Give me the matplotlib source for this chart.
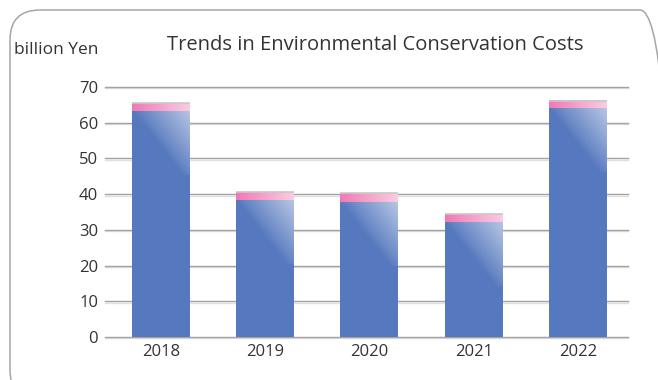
import numpy as np
import matplotlib
matplotlib.use("Agg")
import matplotlib.pyplot as plt
import matplotlib.patheffects as pe
from matplotlib.patches import FancyBboxPatch, Rectangle

# data (billion Yen)
years = ["2018", "2019", "2020", "2021", "2022"]
base_costs = [63.2, 38.3, 37.8, 32.2, 64.1]
top_costs = [2.2, 2.2, 2.5, 2.2, 2.1]
y_ticks = [0, 10, 20, 30, 40, 50, 60, 70]

plt.rcParams["font.family"] = ["Open Sans", "DejaVu Sans"]

W, H = 658, 380
fig = plt.figure(figsize=(W / 100, H / 100), dpi=100)

# rounded frame around the whole chart (pixel coords)
frame = FancyBboxPatch((10, -20), 660, 390, boxstyle="round,pad=0,rounding_size=30",
                       transform=None, facecolor="none", edgecolor="#a6a6a6", lw=1.1,
                       zorder=-1)
fig.patches.append(frame)

ax = fig.add_axes([105 / W, 1 - 337 / H, (628 - 105) / W, (337 - 87) / H])
ax.set_facecolor("none")
ax.set_yticks(y_ticks)
ax.set_xticks(range(len(years)))
ax.set_xticklabels(years)
for s in ax.spines.values():
    s.set_visible(False)
ax.tick_params(length=0, labelsize=12, colors="#333333", pad=5)
ax.tick_params(axis="y", pad=5)
ax.yaxis.grid(True, color="#a3a3a3", lw=1.0)
for gl in ax.get_ygridlines():
    gl.set_clip_on(False)
    gl.set_path_effects([pe.SimpleLineShadow(offset=(0, -1.0), shadow_color="#e0e0e0", alpha=1),
                         pe.Normal()])
ax.set_axisbelow(True)

bw = 0.556
blue = np.array([85, 120, 190]) / 255
px_per_unit = 250 / 70.0
bar_px = 58

for i, (b, t) in enumerate(zip(base_costs, top_costs)):
    x0 = i - bw / 2
    ax.add_patch(Rectangle((x0, 0), bw, b, facecolor=blue, edgecolor="none", zorder=3))
    # glossy diagonal highlight in upper-right of the blue part
    gh = 64 / px_per_unit
    nx, ny = 60, 64
    xs = np.linspace(0, bar_px, nx)
    ds = np.linspace(0, 64, ny)
    X, D = np.meshgrid(xs, ds)
    s = np.clip((X - 0.78 * D) / bar_px, 0, 1)
    img = np.zeros((ny, nx, 4))
    img[..., :3] = 1.0
    img[..., 3] = 0.57 * s ** 0.9
    ax.imshow(img, extent=(x0, x0 + bw, b - min(gh, b), b), origin="upper",
              aspect="auto", interpolation="bilinear", zorder=4)
    # pink cap with horizontal gradient
    c1 = np.array([240, 122, 182]) / 255
    c2 = np.array([250, 204, 225]) / 255
    grad = np.linspace(0, 1, 50)[None, :, None]
    cap = c1 + (c2 - c1) * grad
    ax.imshow(cap, extent=(x0, x0 + bw, b, b + t), aspect="auto",
              interpolation="bilinear", zorder=4)
    ax.plot([x0, x0 + bw], [b + t, b + t], color="#c8c8c8", lw=1.2, zorder=5,
            solid_capstyle="butt")

ax.set_xlim(-0.537, 4.48)
ax.set_ylim(0, 70)

fig.text(375 / W, 1 - 45 / H, "Trends in Environmental Conservation Costs",
         ha="center", va="center", fontsize=14.5, color="#333333")
fig.text(14 / W, 1 - 50 / H, "billion Yen", ha="left", va="center",
         fontsize=12.5, color="#333333")

fig.savefig("out.png", dpi=100)
